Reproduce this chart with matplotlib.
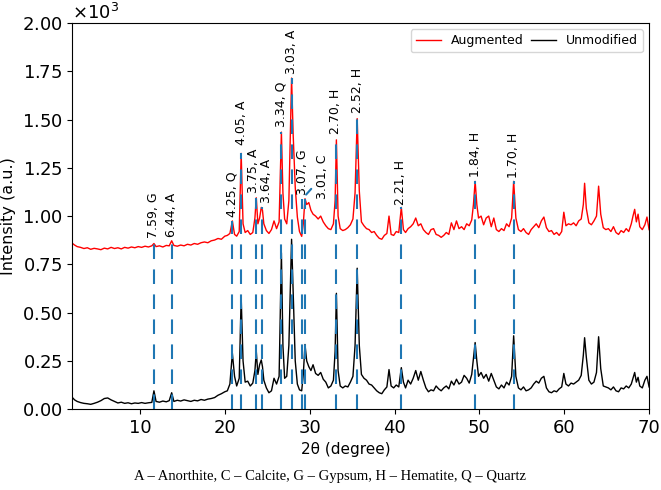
import matplotlib
matplotlib.use("Agg")
import matplotlib.pyplot as plt
from matplotlib.ticker import MultipleLocator

two_theta = [
    2.0, 2.3, 2.6, 3.0, 3.4, 3.8, 4.2, 4.6, 5.0, 5.4,
    5.8, 6.2, 6.6, 7.0, 7.4, 7.8, 8.2, 8.6, 9.0, 9.4,
    9.8, 10.2, 10.6, 11.0, 11.4, 11.65, 11.9, 12.3, 12.7, 13.1,
    13.45, 13.74, 14.0, 14.4, 14.8, 15.2, 15.6, 16.0, 16.4, 16.8,
    17.2, 17.6, 18.0, 18.4, 18.8, 19.2, 19.6, 20.0, 20.3, 20.6,
    20.89, 21.15, 21.4, 21.7, 21.93, 22.15, 22.4, 22.7, 23.0, 23.3,
    23.55, 23.71, 23.9, 24.1, 24.3, 24.44, 24.6, 24.9, 25.2, 25.5,
    25.8, 26.1, 26.4, 26.67, 26.85, 27.05, 27.3, 27.55, 27.87, 28.05,
    28.3, 28.55, 28.8, 29.06, 29.25, 29.45, 29.65, 29.9, 30.15, 30.4,
    30.7, 31.0, 31.3, 31.6, 31.9, 32.2, 32.5, 32.8, 33.0, 33.15,
    33.35, 33.6, 33.9, 34.2, 34.5, 34.8, 35.1, 35.35, 35.6, 35.85,
    36.1, 36.4, 36.7, 37.0, 37.3, 37.6, 37.9, 38.2, 38.5, 38.8,
    39.1, 39.35, 39.6, 39.9, 40.2, 40.5, 40.8, 41.05, 41.3, 41.6,
    41.9, 42.2, 42.5, 42.8, 43.1, 43.4, 43.7, 44.0, 44.3, 44.6,
    44.9, 45.2, 45.5, 45.8, 46.1, 46.4, 46.7, 47.0, 47.3, 47.6,
    47.9, 48.2, 48.5, 48.8, 49.1, 49.3, 49.5, 49.7, 49.9, 50.2,
    50.5, 50.8, 51.1, 51.4, 51.7, 52.0, 52.3, 52.6, 52.9, 53.2,
    53.5, 53.8, 54.04, 54.3, 54.6, 54.9, 55.2, 55.5, 55.8, 56.1,
    56.4, 56.7, 57.0, 57.3, 57.6, 57.9, 58.2, 58.5, 58.8, 59.1,
    59.4, 59.7, 59.95, 60.2, 60.5, 60.8, 61.1, 61.4, 61.7, 62.0,
    62.25, 62.4, 62.6, 62.9, 63.2, 63.5, 63.8, 64.05, 64.3, 64.6,
    64.9, 65.2, 65.5, 65.8, 66.1, 66.4, 66.7, 67.0, 67.3, 67.6,
    67.9, 68.1, 68.3, 68.5, 68.7, 68.9, 69.2, 69.5, 69.75, 70.0,
]

augmented = [
    860, 850, 842, 838, 832, 836, 828, 833, 830, 826,
    834, 830, 838, 832, 836, 830, 838, 834, 840, 836,
    842, 838, 844, 840, 846, 858, 842, 846, 840, 848,
    846, 872, 848, 844, 850, 846, 854, 850, 858, 854,
    862, 866, 862, 872, 876, 884, 880, 896, 900, 910,
    975, 905, 896, 920, 1325, 960, 915, 925, 905, 915,
    990, 1095, 960, 990, 1045, 1030, 960, 925, 910, 930,
    975, 935, 970, 1435, 1120, 985, 960, 1080, 1715, 1430,
    1150, 995, 920, 895, 960, 1090, 1060, 1070, 1030, 1010,
    1000, 985, 1000, 970, 950, 935, 930, 960, 1080, 1395,
    1000, 935, 925, 930, 940, 955, 985, 1120, 1505, 1130,
    970, 950, 935, 930, 915, 920, 900, 885, 880, 900,
    910, 1000, 905, 900, 920, 915, 1045, 930, 915, 935,
    945, 960, 990, 950, 960, 930, 915, 905, 930, 935,
    905, 900, 890, 900, 915, 905, 965, 930, 975, 935,
    945, 930, 960, 950, 980, 1060, 1180, 1060, 990, 1000,
    955, 990, 1000, 945, 990, 930, 920, 935, 925, 960,
    945, 990, 1180, 990, 930, 920, 935, 915, 905, 930,
    945, 960, 940, 975, 995, 940, 920, 925, 905, 915,
    900, 920, 1020, 950, 960, 955, 965, 950, 975, 985,
    1060, 1170, 1040, 965, 955, 975, 1000, 1155, 1010, 940,
    930, 935, 920, 945, 915, 905, 925, 915, 935, 920,
    960, 1000, 1035, 970, 1010, 945, 930, 955, 995, 930,
]

unmodified = [
    62, 48, 40, 34, 30, 28, 25, 30, 36, 44,
    55, 58, 48, 40, 32, 36, 30, 33, 28, 32,
    30, 34, 30, 33, 35, 95, 40, 36, 42, 38,
    44, 85, 40, 46, 42, 48, 44, 40, 46, 43,
    50, 46, 52, 55, 60, 72, 80, 90, 95, 130,
    290, 170, 120, 160, 580, 250, 140, 145, 120, 135,
    200, 300, 180, 230, 255, 220, 150, 110, 85, 95,
    160, 130, 170, 810, 330, 160, 170, 330, 880, 610,
    250, 130, 100, 95, 180, 335, 250, 220, 200, 230,
    185, 175, 190, 155, 140, 110, 120, 150, 300, 600,
    200, 120, 110, 120, 115, 140, 170, 330, 730, 330,
    180, 160, 150, 130, 125, 110, 95, 85, 80, 100,
    115, 205, 120, 110, 125, 115, 215, 140, 110, 150,
    130, 160, 200, 150, 195, 150, 110, 90, 100, 95,
    120, 105, 95, 110, 120, 105, 145, 125, 155, 130,
    140, 175, 160, 135, 180, 260, 345, 250, 170, 190,
    160, 180, 145, 185, 150, 115, 105, 125, 110, 140,
    125, 170, 380, 170, 110, 100, 115, 95, 100, 110,
    130, 145, 135, 160, 170, 110, 90, 85, 95, 90,
    105, 115, 185, 130, 120, 135, 130, 140, 150, 175,
    280, 370, 270, 150, 130, 140, 190, 375, 210, 120,
    115, 110, 100, 115, 95, 90, 110, 105, 120, 110,
    130, 160, 190, 140, 165, 120, 110, 150, 170, 115,
]

# reference peaks: position, label, top of dashed line, label x / height
peak_pos = [11.65, 13.74, 20.89, 21.93, 23.71, 24.44, 26.67, 27.87, 29.06,
            33.15, 35.6, 40.8, 49.5, 54.04]
peak_labels = ["7.59, G", "6.44, A", "4.25, Q", "4.05, A", "3.75, A", "3.64, A",
               "3.34, Q", "3.03, A", "3.07, G", "2.70, H", "2.52, H", "2.21, H",
               "1.84, H", "1.70, H"]
line_top = [870, 880, 975, 1325, 1095, 1045, 1435, 1715, 1090,
            1395, 1505, 1045, 1180, 1180]
label_x = [11.65, 13.74, 20.89, 21.93, 23.4, 24.95, 26.67, 27.87, 29.15,
           33.0, 35.6, 40.7, 49.5, 54.0]
label_y = [885, 890, 995, 1370, 1120, 1070, 1460, 1735, 1110,
           1425, 1535, 1060, 1205, 1195]

calcite_pos = 29.45
calcite_top = 1090
calcite_label = "3.01, C"
calcite_text_xy = (31.5, 1090)

fig, ax = plt.subplots(figsize=(6.61, 4.9), dpi=100)
fig.subplots_adjust(left=0.109, right=0.982, bottom=0.165, top=0.953)

ax.plot(two_theta, augmented, color="red", lw=1.0, label="Augmented")
ax.plot(two_theta, unmodified, color="black", lw=1.0, label="Unmodified")

for x, top, lab, lx, ly in zip(peak_pos, line_top, peak_labels, label_x, label_y):
    ax.plot([x, x], [0, top], color="C0", lw=1.5, dashes=(7, 5))
    ax.text(lx, ly, lab, rotation=90, ha="center", va="bottom", fontsize=9)

ax.plot([calcite_pos, calcite_pos], [0, calcite_top], color="C0", lw=1.5, dashes=(7, 5))
ax.annotate(calcite_label, xy=(calcite_pos, calcite_top + 15), xytext=calcite_text_xy,
            rotation=90, ha="center", va="bottom", fontsize=9,
            arrowprops=dict(arrowstyle="-", color="C0", lw=1.5, linestyle="--",
                            shrinkA=2, shrinkB=0))

ax.set_xlim(2, 70)
ax.set_ylim(0, 2000)
ax.yaxis.set_major_locator(MultipleLocator(250))
ax.ticklabel_format(axis="y", style="sci", scilimits=(3, 3), useMathText=True)
ax.tick_params(labelsize=13)
ax.yaxis.get_offset_text().set_fontsize(13)

ax.set_xlabel("2θ (degree)", fontsize=11)
ax.xaxis.set_label_coords(0.475, -0.085)
ax.set_ylabel("Intensity (a.u.)", fontsize=11.5)
ax.legend(loc="upper right", ncol=2, fontsize=9, columnspacing=0.6)

fig.text(0.5, 0.028, "A – Anorthite, C – Calcite, G – Gypsum, H – Hematite, Q – Quartz",
         ha="center", va="center", fontsize=10.5, family="Liberation Serif")

plt.savefig("out.png", format="png")
plt.close(fig)
